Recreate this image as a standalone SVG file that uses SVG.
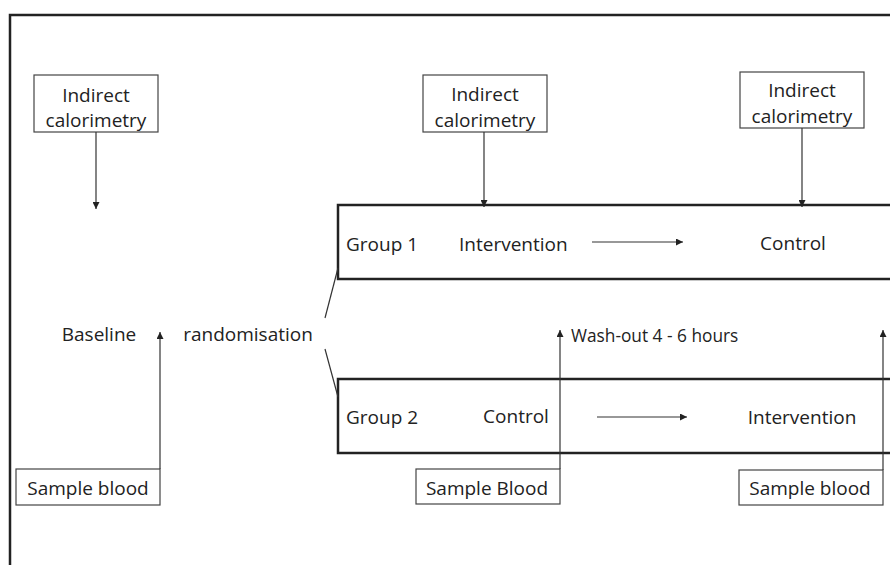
<svg xmlns="http://www.w3.org/2000/svg" width="890" height="565" viewBox="0 0 890 565">
<style>
text{font-family:"Open Sans","Liberation Sans",sans-serif;font-size:19px;fill:#222}
.sm{font-size:17.3px}
.box{fill:#fff;stroke:#444;stroke-width:1.2}
.grp{fill:none;stroke:#222;stroke-width:2.5}
.ln{fill:none;stroke:#333;stroke-width:1.2}
.frame{fill:none;stroke:#222;stroke-width:2.5}
</style>
<defs>
<marker id="ah" viewBox="0 0 10 10" refX="10" refY="5" markerWidth="7" markerHeight="7" markerUnits="userSpaceOnUse" orient="auto">
<path d="M0,0 L10,5 L0,10 z" fill="#222"/>
</marker>
</defs>
<path class="frame" d="M10,565 V15 H892"/>
<g id="group1"><rect class="grp" x="338" y="205" width="560" height="74"/>
<text x="346" y="251">Group 1</text>
<text x="459" y="251">Intervention</text>
<text x="793" y="250" text-anchor="middle">Control</text></g>
<g id="group2"><rect class="grp" x="338" y="379" width="560" height="74"/>
<text x="346" y="424">Group 2</text>
<text x="516" y="423" text-anchor="middle">Control</text>
<text x="802" y="424" text-anchor="middle">Intervention</text></g>
<g id="ic1"><rect class="box" x="34" y="75" width="124" height="57"/>
<text x="96" y="102" text-anchor="middle">Indirect</text><text x="96" y="127" text-anchor="middle">calorimetry</text></g>
<g id="ic2"><rect class="box" x="423" y="75" width="124" height="57"/>
<text x="485" y="101" text-anchor="middle">Indirect</text><text x="485" y="127" text-anchor="middle">calorimetry</text></g>
<g id="ic3"><rect class="box" x="740" y="72" width="124" height="56"/>
<text x="802" y="97" text-anchor="middle">Indirect</text><text x="802" y="123" text-anchor="middle">calorimetry</text></g>
<g id="baseline"><text x="99" y="341" text-anchor="middle">Baseline</text></g>
<g id="randomisation"><text x="248" y="341" text-anchor="middle">randomisation</text></g>
<g id="washout"><text class="sm" x="571" y="342">Wash-out 4 - 6 hours</text></g>
<g id="sb1"><rect class="box" x="16" y="469" width="144" height="36"/><text x="88" y="495" text-anchor="middle">Sample blood</text></g>
<g id="sb2"><rect class="box" x="416" y="469" width="144" height="35"/><text x="487" y="495" text-anchor="middle">Sample Blood</text></g>
<g id="sb3"><rect class="box" x="739" y="470" width="144" height="35"/><text x="810" y="495" text-anchor="middle">Sample blood</text></g>
<g id="connectors">
<line class="ln" x1="96" y1="132" x2="96" y2="209" marker-end="url(#ah)"/>
<line class="ln" x1="484" y1="132" x2="484" y2="207" marker-end="url(#ah)"/>
<line class="ln" x1="802" y1="128" x2="802" y2="207" marker-end="url(#ah)"/>
<line class="ln" x1="592" y1="242" x2="683" y2="242" marker-end="url(#ah)"/>
<line class="ln" x1="597" y1="417" x2="687" y2="417" marker-end="url(#ah)"/>
<line class="ln" x1="160" y1="469" x2="160" y2="332" marker-end="url(#ah)"/>
<line class="ln" x1="560" y1="469" x2="560" y2="330" marker-end="url(#ah)"/>
<line class="ln" x1="883" y1="470" x2="883" y2="330" marker-end="url(#ah)"/>
<line class="ln" x1="325" y1="318" x2="338" y2="268"/>
<line class="ln" x1="325" y1="349" x2="338" y2="397"/>
</g>
</svg>
